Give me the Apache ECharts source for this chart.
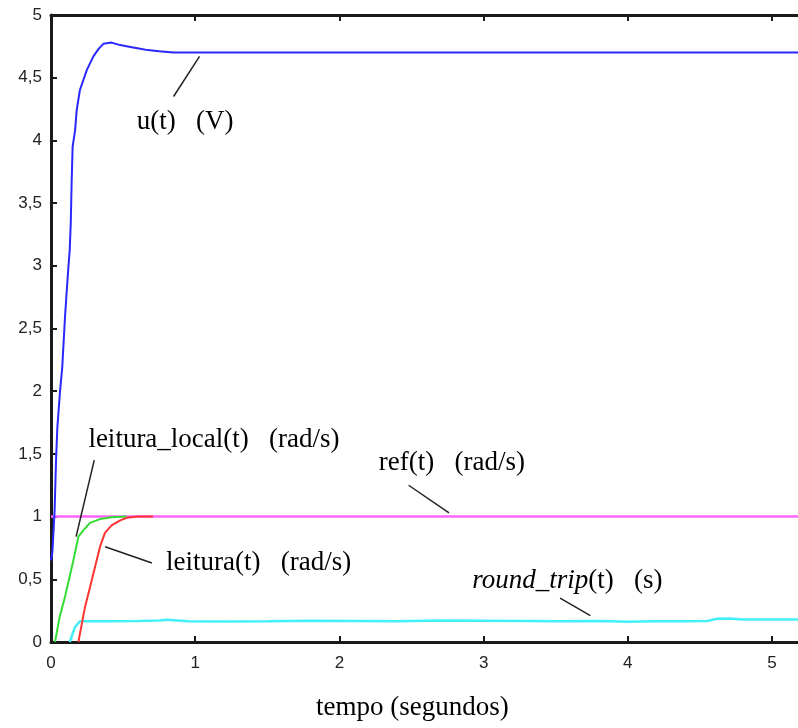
<!DOCTYPE html>
<html>
<head>
<meta charset="utf-8">
<script src="https://cdn.jsdelivr.net/npm/echarts@6/dist/echarts.min.js"></script>
<style>
html,body{margin:0;padding:0;background:#fff;}
#chart{width:798px;height:728px;}
</style>
</head>
<body>
<div id="chart"></div>
<script>
// ---- data ----
var xTicks = [0, 1, 2, 3, 4, 5];
var yTicks = [0, 0.5, 1, 1.5, 2, 2.5, 3, 3.5, 4, 4.5, 5];

var uT = [0, 0.01, 0.025, 0.035, 0.044, 0.062, 0.078, 0.097, 0.115, 0.13, 0.137, 0.143, 0.15, 0.167, 0.178, 0.20, 0.248, 0.294, 0.33, 0.363, 0.42, 0.48, 0.55, 0.62, 0.67, 0.75, 0.85, 1.0, 5.18];
var uV = [0.65, 0.72, 1.05, 1.45, 1.71, 1.99, 2.19, 2.59, 2.9, 3.13, 3.34, 3.66, 3.95, 4.08, 4.24, 4.40, 4.56, 4.67, 4.73, 4.77, 4.78, 4.76, 4.745, 4.73, 4.72, 4.71, 4.70, 4.70, 4.70];

var refT = [0, 5.18];
var refV = [1, 1];

var localT = [0.028, 0.06, 0.097, 0.155, 0.19, 0.224, 0.27, 0.34, 0.42, 0.525];
var localV = [0, 0.2, 0.36, 0.65, 0.84, 0.89, 0.95, 0.98, 0.995, 1.0];

var leitT = [0.19, 0.236, 0.282, 0.34, 0.374, 0.42, 0.48, 0.525, 0.6, 0.707];
var leitV = [0, 0.28, 0.49, 0.76, 0.87, 0.93, 0.97, 0.99, 1.0, 1.0];

var rtT = [0.13, 0.167, 0.2, 0.4, 0.6, 0.75, 0.8, 0.95, 1.2, 1.5, 1.8, 2.1, 2.4, 2.7, 3.0, 3.3, 3.5, 3.8, 4.0, 4.2, 4.4, 4.55, 4.62, 4.7, 4.8, 5.0, 5.18];
var rtV = [0, 0.12, 0.165, 0.165, 0.168, 0.172, 0.178, 0.165, 0.163, 0.165, 0.17, 0.168, 0.166, 0.172, 0.17, 0.168, 0.166, 0.168, 0.162, 0.165, 0.165, 0.168, 0.185, 0.188, 0.18, 0.18, 0.18];

var annoTexts = ['u(t)   (V)', 'leitura_local(t)   (rad/s)', 'ref(t)   (rad/s)', 'leitura(t)   (rad/s)', '{i|round_trip}(t)   (s)'];
var annoPos = [[0.93, 4.15], [1.13, 1.61], [2.78, 1.43], [1.44, 0.63], [3.58, 0.49]];
var leaderFrom = [[0.85, 4.35], [0.30, 1.45], [2.48, 1.25], [0.375, 0.76], [3.53, 0.35]];
var leaderTo = [[1.03, 4.67], [0.174, 0.84], [2.76, 1.03], [0.70, 0.63], [3.74, 0.21]];

var xTitle = 'tempo (segundos)';

function pairs(t, v) { return t.map(function (x, i) { return [x, v[i]]; }); }

var chart = echarts.init(document.getElementById('chart'), null, {renderer: 'canvas'});
var axisCol = '#1a1a1a';
var serif = '"Liberation Serif", "Times New Roman", serif';
var sans = '"Liberation Sans", Arial, sans-serif';

var annoData = annoTexts.map(function (txt, i) {
  return {value: annoPos[i], name: txt};
});
var leaderData = leaderFrom.map(function (p, i) {
  return [{coord: p}, {coord: leaderTo[i]}];
});

var lineBase = {type: 'line', showSymbol: false, symbol: 'none', animation: false, silent: true};

var option = {
  animation: false,
  backgroundColor: '#ffffff',
  grid: {left: 51, right: 0, top: 15, bottom: 86, containLabel: false},
  xAxis: [{
    type: 'value', min: 0, max: 5.18, interval: 1, position: 'bottom',
    axisLine: {show: true, onZero: false, lineStyle: {color: axisCol, width: 3}},
    axisTick: {show: true, inside: true, length: 6, customValues: xTicks, lineStyle: {color: axisCol, width: 2}},
    axisLabel: {show: true, margin: 13, color: '#222', fontSize: 17, fontFamily: sans, customValues: xTicks},
    splitLine: {show: false}
  }, {
    type: 'value', min: 0, max: 5.18, interval: 1, position: 'top',
    axisLine: {show: true, onZero: false, lineStyle: {color: axisCol, width: 3}},
    axisTick: {show: true, inside: true, length: 6, customValues: xTicks, lineStyle: {color: axisCol, width: 2}},
    axisLabel: {show: false},
    splitLine: {show: false}
  }],
  yAxis: {
    type: 'value', min: 0, max: 5, interval: 0.5,
    axisLine: {show: true, onZero: false, lineStyle: {color: axisCol, width: 3}},
    axisTick: {show: true, inside: true, length: 6, lineStyle: {color: axisCol, width: 2}},
    axisLabel: {margin: 9, color: '#222', fontSize: 17, fontFamily: sans,
      formatter: function (v) { return String(v).replace('.', ','); }},
    splitLine: {show: false}
  },
  graphic: [{
    type: 'text', left: 316, top: 694,
    style: {text: xTitle, font: '27px ' + serif, fill: '#000'}
  }],
  series: [
    Object.assign({}, lineBase, {name: 'ref', data: pairs(refT, refV), lineStyle: {color: '#ff66ff', width: 2.5}, z: 2}),
    Object.assign({}, lineBase, {name: 'round_trip', data: pairs(rtT, rtV), lineStyle: {color: '#44f0f8', width: 2.5}, z: 3}),
    Object.assign({}, lineBase, {name: 'leitura_local', data: pairs(localT, localV), lineStyle: {color: '#33dd33', width: 2}, z: 4}),
    Object.assign({}, lineBase, {name: 'leitura', data: pairs(leitT, leitV), lineStyle: {color: '#ff3333', width: 2}, z: 5}),
    Object.assign({}, lineBase, {name: 'u', data: pairs(uT, uV), lineStyle: {color: '#2828ff', width: 2}, z: 6}),
    {
      type: 'scatter', name: 'annotations', silent: true, animation: false,
      symbolSize: 0, itemStyle: {color: 'rgba(255,255,255,0)', opacity: 1},
      data: annoData,
      label: {
        show: true, position: 'inside', formatter: '{b}', color: '#000', opacity: 1,
        fontSize: 27, fontFamily: serif,
        rich: {i: {fontStyle: 'italic', fontSize: 27, fontFamily: serif, color: '#000'}}
      },
      markLine: {
        silent: true, animation: false, symbol: ['none', 'none'],
        label: {show: false},
        lineStyle: {color: '#222', width: 1.5, type: 'solid', opacity: 1},
        data: leaderData
      },
      z: 10
    }
  ]
};
chart.setOption(option);
</script>
</body>
</html>
